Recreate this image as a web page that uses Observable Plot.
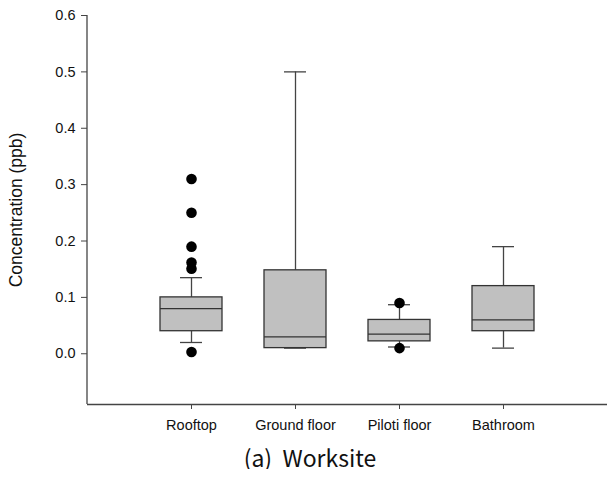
<!DOCTYPE html>
<html>
<head>
<meta charset="utf-8">
<script src="https://cdn.jsdelivr.net/npm/d3@7"></script>
<script src="https://cdn.jsdelivr.net/npm/@observablehq/plot@0.6"></script>
<style>
  html, body { margin: 0; background: #fff; overflow: hidden; }
  #wrap { position: relative; width: 607px; }
  svg { font-family: "Liberation Sans", Arial, sans-serif; display: block; }
  [aria-label="y-axis label"] { font-size: 17.5px; }
  #title { font-family: "Noto Sans CJK KR", "Noto Sans", sans-serif; font-weight: 400; font-size: 23px; box-sizing: border-box; width: 607px; padding-left: 13px; text-align: center; line-height: 1; margin-top: 6px; color: #111; white-space: pre; }
</style>
</head>
<body>
<div id="wrap"></div>
<script>
const categories = ["Rooftop", "Ground floor", "Piloti floor", "Bathroom"];
const q1 = [0.04, 0.01, 0.022, 0.04];
const median = [0.08, 0.03, 0.035, 0.06];
const q3 = [0.10, 0.148, 0.06, 0.12];
const whiskerLow = [0.02, 0.01, 0.012, 0.01];
const whiskerHigh = [0.135, 0.5, 0.087, 0.19];
const outlierCategory = ["Rooftop", "Rooftop", "Rooftop", "Rooftop", "Rooftop", "Rooftop", "Piloti floor", "Piloti floor"];
const outlierValue = [0.31, 0.25, 0.19, 0.162, 0.151, 0.003, 0.09, 0.01];
const yTicks = [0, 0.1, 0.2, 0.3, 0.4, 0.5, 0.6];
const yMin = -0.09;

const boxes = categories.map((c, i) => ({cat: c, q1: q1[i], med: median[i], q3: q3[i], lo: whiskerLow[i], hi: whiskerHigh[i]}));
const outliers = outlierCategory.map((c, i) => ({cat: c, v: outlierValue[i]}));

const capInset = 20;
const chart = Plot.plot({
  width: 607,
  height: 440,
  marginLeft: 87,
  marginRight: 0,
  marginTop: 15,
  marginBottom: 36,
  style: {fontSize: "14.5px", color: "#111"},
  x: {type: "band", domain: categories, paddingInner: 0.4, paddingOuter: 0.7},
  y: {domain: [yMin, 0.6]},
  marks: [
    Plot.ruleY([yMin], {stroke: "#444", strokeWidth: 1.3}),
    Plot.axisY({ticks: yTicks, tickFormat: d3.format(".1f"), tickSize: 6, tickPadding: 6, stroke: "#444",
      label: "Concentration (ppb)", labelAnchor: "center", labelArrow: "none", labelOffset: 78}),
    Plot.axisX({tickSize: 5, tickPadding: 10, label: null, stroke: "#444"}),
    Plot.ruleX(boxes, {x: "cat", y1: "q3", y2: "hi", stroke: "#444", strokeWidth: 1.3}),
    Plot.ruleX(boxes, {x: "cat", y1: "lo", y2: "q1", stroke: "#444", strokeWidth: 1.3}),
    Plot.tickY(boxes, {x: "cat", y: "hi", stroke: "#444", strokeWidth: 1.3, insetLeft: capInset, insetRight: capInset}),
    Plot.tickY(boxes, {x: "cat", y: "lo", stroke: "#444", strokeWidth: 1.3, insetLeft: capInset, insetRight: capInset}),
    Plot.barY(boxes, {x: "cat", y1: "q1", y2: "q3", fill: "#c0c0c0", stroke: "#333", strokeWidth: 1.3}),
    Plot.tickY(boxes, {x: "cat", y: "med", stroke: "#333", strokeWidth: 1.3}),
    Plot.dot(outliers, {x: "cat", y: "v", r: 5.3, fill: "#000", stroke: null})
  ]
});
// y-axis domain line, positioned from the chart's own scales
const xr = chart.scale("x").range, yr = chart.scale("y").range;
d3.select(chart).append("line")
  .attr("x1", xr[0]).attr("x2", xr[0])
  .attr("y1", yr[0]).attr("y2", yr[1])
  .attr("stroke", "#444").attr("stroke-width", 1.3);
document.getElementById("wrap").appendChild(chart);
const t = document.createElement("div");
t.id = "title";
t.textContent = "(a)  Worksite";
document.getElementById("wrap").appendChild(t);
</script>
</body>
</html>
